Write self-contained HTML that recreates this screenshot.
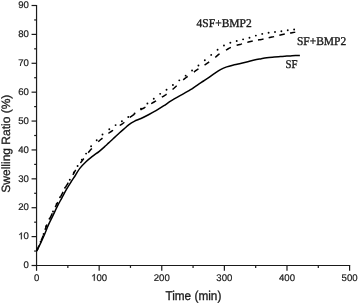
<!DOCTYPE html>
<html><head><meta charset="utf-8"><style>
html,body{margin:0;padding:0;background:#fff;width:358px;height:304px;overflow:hidden}
svg{display:block} text{-webkit-font-smoothing:antialiased;text-rendering:geometricPrecision} body{will-change:transform}
</style></head><body>
<svg width="358" height="304" viewBox="0 0 358 304">
<rect width="358" height="304" fill="#fff"/>
<g stroke="#1a1a1a" stroke-width="1.2" fill="none" stroke-linecap="butt">
<path d="M36.55,4.90 V266.10" />
<path d="M35.95,265.50 H350.20" />
<path d="M31.55,265.50 H36.55" />
<path d="M31.55,236.61 H36.55" />
<path d="M31.55,207.72 H36.55" />
<path d="M31.55,178.83 H36.55" />
<path d="M31.55,149.94 H36.55" />
<path d="M31.55,121.06 H36.55" />
<path d="M31.55,92.17 H36.55" />
<path d="M31.55,63.28 H36.55" />
<path d="M31.55,34.39 H36.55" />
<path d="M31.55,5.50 H36.55" />
<path d="M34.15,251.06 H36.55" />
<path d="M34.15,222.17 H36.55" />
<path d="M34.15,193.28 H36.55" />
<path d="M34.15,164.39 H36.55" />
<path d="M34.15,135.50 H36.55" />
<path d="M34.15,106.61 H36.55" />
<path d="M34.15,77.72 H36.55" />
<path d="M34.15,48.83 H36.55" />
<path d="M34.15,19.94 H36.55" />
<path d="M36.55,265.50 V270.80" />
<path d="M99.16,265.50 V270.80" />
<path d="M161.77,265.50 V270.80" />
<path d="M224.38,265.50 V270.80" />
<path d="M286.99,265.50 V270.80" />
<path d="M349.60,265.50 V270.80" />
<path d="M67.85,265.50 V267.90" />
<path d="M130.47,265.50 V267.90" />
<path d="M193.07,265.50 V267.90" />
<path d="M255.69,265.50 V267.90" />
<path d="M318.30,265.50 V267.90" />
</g>
<g font-family="Liberation Sans, sans-serif" font-size="9.6" fill="#1a1a1a" stroke="#1a1a1a" stroke-width="0.2">
<text transform="translate(23.56,268.20) scale(1,1.0)">0</text>
<path transform="translate(18.22,239.31) scale(1,1.0)" d="M3.57,0.00 L3.57,-6.87 L3.01,-6.87 L2.78,-6.45 L2.35,-6.00 L1.82,-5.57 L1.05,-5.14 L1.05,-4.32 L1.63,-4.59 L2.21,-4.94 L2.70,-5.33 L2.70,0.00 Z"/><text transform="translate(23.56,239.31) scale(1,1.0)">0</text>
<text transform="translate(18.22,210.42) scale(1,1.0)">20</text>
<text transform="translate(18.22,181.53) scale(1,1.0)">30</text>
<text transform="translate(18.22,152.64) scale(1,1.0)">40</text>
<text transform="translate(18.22,123.76) scale(1,1.0)">50</text>
<text transform="translate(18.22,94.87) scale(1,1.0)">60</text>
<text transform="translate(18.22,65.98) scale(1,1.0)">70</text>
<text transform="translate(18.22,37.09) scale(1,1.0)">80</text>
<text transform="translate(18.22,8.20) scale(1,1.0)">90</text>
<text transform="translate(33.88,280.80) scale(1,1.0)">0</text>
<path transform="translate(91.15,280.80) scale(1,1.0)" d="M3.57,0.00 L3.57,-6.87 L3.01,-6.87 L2.78,-6.45 L2.35,-6.00 L1.82,-5.57 L1.05,-5.14 L1.05,-4.32 L1.63,-4.59 L2.21,-4.94 L2.70,-5.33 L2.70,0.00 Z"/><text transform="translate(96.49,280.80) scale(1,1.0)">00</text>
<text transform="translate(153.76,280.80) scale(1,1.0)">200</text>
<text transform="translate(216.37,280.80) scale(1,1.0)">300</text>
<text transform="translate(278.98,280.80) scale(1,1.0)">400</text>
<text transform="translate(341.59,280.80) scale(1,1.0)">500</text>
</g>
<text transform="translate(165.4,299.8) scale(1,1.08)" font-family="Liberation Sans, sans-serif" font-size="11.8" fill="#1a1a1a" stroke="#1a1a1a" stroke-width="0.3">Time (min)</text>
<text transform="translate(9.7,143.7) rotate(-90)" text-anchor="middle" font-family="Liberation Sans, sans-serif" font-size="12" fill="#1a1a1a" stroke="#1a1a1a" stroke-width="0.3">Swelling Ratio (%)</text>
<g font-family="Liberation Serif, serif" font-size="11.5" fill="#1a1a1a" stroke="#1a1a1a" stroke-width="0.35">
<text transform="translate(196.6,27.1) scale(1,1.04)">4SF+BMP2</text>
<text transform="translate(296.9,44.6) scale(1,1.04)">SF+BMP2</text>
<text transform="translate(285.5,68.1) scale(0.94,1.03)">SF</text>
</g>
<g fill="none" stroke="#000" stroke-width="1.5" stroke-linejoin="round">
<path d="M36.55,251.20 C37.21,249.90 39.19,246.14 40.50,243.40 C41.81,240.66 43.12,237.75 44.40,234.75 C45.68,231.75 46.80,228.54 48.20,225.40 C49.60,222.26 51.28,219.07 52.80,215.90 C54.32,212.73 55.78,209.42 57.30,206.40 C58.82,203.38 60.40,200.60 61.90,197.80 C63.40,195.00 64.78,192.23 66.30,189.60 C67.82,186.97 69.50,184.35 71.00,182.00 C72.50,179.65 73.83,177.77 75.30,175.50 C76.77,173.23 78.02,170.70 79.80,168.40 C81.58,166.10 83.90,163.70 86.00,161.70 C88.10,159.70 90.18,158.14 92.40,156.40 C94.62,154.66 97.10,153.05 99.30,151.29 C101.50,149.52 104.03,147.21 105.60,145.81 C107.17,144.41 107.40,144.08 108.70,142.87 C110.00,141.67 111.58,140.26 113.40,138.57 C115.22,136.87 117.57,134.53 119.60,132.69 C121.63,130.85 124.10,128.83 125.60,127.51 C127.10,126.19 127.16,125.81 128.60,124.77 C130.04,123.74 132.18,122.35 134.25,121.30 C136.32,120.25 138.62,119.59 141.00,118.50 C143.38,117.41 146.00,116.06 148.50,114.75 C151.00,113.44 153.50,112.11 156.00,110.64 C158.50,109.17 161.21,107.43 163.50,105.94 C165.79,104.45 167.96,102.87 169.75,101.70 C171.54,100.53 172.46,99.97 174.25,98.90 C176.04,97.83 178.42,96.47 180.50,95.30 C182.58,94.13 185.08,92.83 186.75,91.90 C188.42,90.97 188.72,90.84 190.50,89.70 C192.28,88.56 195.22,86.50 197.40,85.05 C199.58,83.60 201.60,82.31 203.60,81.00 C205.60,79.69 207.62,78.42 209.40,77.20 C211.18,75.98 212.40,74.97 214.25,73.70 C216.10,72.43 218.42,70.74 220.50,69.61 C222.58,68.47 224.46,67.67 226.75,66.87 C229.04,66.08 231.96,65.42 234.25,64.84 C236.54,64.26 238.42,63.89 240.50,63.40 C242.58,62.92 244.46,62.47 246.75,61.92 C249.04,61.37 251.96,60.60 254.25,60.10 C256.54,59.60 258.42,59.28 260.50,58.90 C262.58,58.52 264.46,58.10 266.75,57.80 C269.04,57.50 271.96,57.30 274.25,57.10 C276.54,56.90 278.42,56.77 280.50,56.60 C282.58,56.43 284.83,56.23 286.75,56.10 C288.67,55.97 289.81,55.92 292.00,55.80 C294.19,55.68 298.58,55.47 299.90,55.40"/>
<path d="M36.75,250.74 L37.21,249.72 L37.67,248.70 L38.13,247.68 L38.58,246.65 L39.04,245.63 M41.15,240.66 L41.58,239.63 L42.01,238.59 L42.43,237.55 L42.84,236.51 L43.24,235.46 M45.07,229.86 L45.40,228.79 L45.75,227.72 L46.12,226.67 L46.51,225.62 L46.94,224.58 M49.91,218.35 L50.40,217.35 L50.89,216.34 L51.37,215.33 L51.85,214.32 L52.32,213.30 M55.25,207.11 L55.75,206.11 L56.25,205.11 L56.75,204.11 L57.27,203.11 L57.78,202.12 M60.54,196.84 L61.05,195.85 L61.57,194.86 L62.10,193.87 L62.62,192.88 L63.15,191.89 M65.50,187.45 L66.04,186.47 L66.59,185.49 L67.15,184.52 L67.73,183.56 L68.31,182.60 M72.88,174.76 L73.43,173.79 L73.99,172.82 L74.56,171.86 L75.14,170.89 L75.71,169.93 M80.40,163.01 L81.08,162.12 L81.76,161.23 L82.43,160.33 L83.10,159.44 L83.78,158.54 M88.25,152.70 L88.95,151.82 L89.65,150.95 L90.38,150.10 L91.12,149.26 L91.88,148.44 M98.25,141.75 L99.06,140.98 L99.89,140.23 L100.75,139.51 L101.62,138.80 L102.49,138.09 M108.40,133.40 L109.31,132.75 L110.23,132.11 L111.17,131.50 L112.10,130.88 L113.03,130.25 M119.75,125.50 L120.68,124.87 L121.62,124.27 L122.56,123.66 L123.47,123.01 L124.33,122.29 M129.80,117.30 L130.77,116.75 L131.70,116.12 L132.62,115.48 L133.53,114.83 L134.44,114.18 M140.50,109.80 L141.47,109.23 L142.46,108.71 L143.46,108.22 L144.46,107.72 L145.44,107.17 M151.18,103.59 L152.15,103.04 L153.13,102.50 L154.12,101.97 L155.10,101.42 L156.07,100.86 M161.86,97.23 L162.81,96.64 L163.77,96.06 L164.73,95.47 L165.66,94.86 L166.58,94.21 M172.54,89.45 L173.39,88.72 L174.23,87.98 L175.05,87.22 L175.87,86.46 L176.70,85.70 M183.22,79.84 L184.08,79.12 L184.96,78.42 L185.85,77.74 L186.75,77.07 L187.65,76.41 M193.90,72.04 L194.81,71.39 L195.71,70.72 L196.61,70.06 L197.54,69.44 L198.49,68.84 M204.58,65.11 L205.52,64.49 L206.44,63.86 L207.35,63.21 L208.25,62.55 L209.15,61.88 M215.26,57.31 L216.13,56.61 L216.98,55.88 L217.82,55.13 L218.68,54.42 L219.58,53.75 M225.94,50.09 L226.92,49.54 L227.89,48.99 L228.87,48.44 L229.86,47.92 L230.87,47.44 M236.62,45.28 L237.70,44.97 L238.78,44.69 L239.87,44.42 L240.95,44.15 L242.03,43.85 M247.30,42.37 L248.38,42.08 L249.47,41.81 L250.56,41.55 L251.65,41.30 L252.74,41.05 M257.98,39.99 L259.09,39.82 L260.20,39.67 L261.31,39.51 L262.41,39.33 L263.51,39.11 M268.66,37.83 L269.75,37.56 L270.84,37.31 L271.94,37.10 L273.04,36.88 L274.13,36.63 M279.34,35.34 L280.43,35.07 L281.51,34.80 L282.60,34.54 L283.69,34.29 L284.79,34.06 M290.02,33.08 L291.06,32.90 L292.11,32.72 L293.16,32.54 L294.20,32.37 L295.25,32.20 " stroke-linecap="butt"/>
</g>
<g fill="#000"><circle cx="37.43" cy="249.18" r="0.95"/><circle cx="40.62" cy="241.63" r="0.95"/><circle cx="43.57" cy="233.98" r="0.95"/><circle cx="46.10" cy="226.18" r="0.95"/><circle cx="49.52" cy="218.73" r="0.95"/><circle cx="53.00" cy="211.44" r="0.95"/><circle cx="56.61" cy="203.94" r="0.95"/><circle cx="60.00" cy="197.20" r="0.95"/><circle cx="65.02" cy="187.81" r="0.95"/><circle cx="69.80" cy="179.75" r="0.95"/><circle cx="73.84" cy="172.47" r="0.95"/><circle cx="77.60" cy="165.98" r="0.95"/><circle cx="81.83" cy="159.67" r="0.95"/><circle cx="86.10" cy="153.60" r="0.95"/><circle cx="91.10" cy="146.20" r="0.95"/><circle cx="96.70" cy="140.20" r="0.95"/><circle cx="102.50" cy="134.50" r="0.95"/><circle cx="109.30" cy="129.30" r="0.95"/><circle cx="115.60" cy="125.10" r="0.95"/><circle cx="121.90" cy="121.30" r="0.95"/><circle cx="128.30" cy="117.02" r="0.95"/><circle cx="134.60" cy="113.48" r="0.95"/><circle cx="141.02" cy="108.68" r="0.95"/><circle cx="147.40" cy="103.48" r="0.95"/><circle cx="153.78" cy="98.74" r="0.95"/><circle cx="160.16" cy="93.86" r="0.95"/><circle cx="166.54" cy="89.75" r="0.95"/><circle cx="172.92" cy="84.99" r="0.95"/><circle cx="179.30" cy="80.35" r="0.95"/><circle cx="185.68" cy="75.64" r="0.95"/><circle cx="192.06" cy="70.55" r="0.95"/><circle cx="198.44" cy="65.45" r="0.95"/><circle cx="204.82" cy="60.23" r="0.95"/><circle cx="211.20" cy="54.88" r="0.95"/><circle cx="217.58" cy="49.81" r="0.95"/><circle cx="223.96" cy="45.57" r="0.95"/><circle cx="230.34" cy="42.82" r="0.95"/><circle cx="236.72" cy="40.99" r="0.95"/><circle cx="243.10" cy="39.35" r="0.95"/><circle cx="249.48" cy="37.71" r="0.95"/><circle cx="255.86" cy="35.61" r="0.95"/><circle cx="262.24" cy="33.89" r="0.95"/><circle cx="268.62" cy="32.70" r="0.95"/><circle cx="275.00" cy="32.00" r="0.95"/><circle cx="281.38" cy="31.28" r="0.95"/><circle cx="287.76" cy="30.31" r="0.95"/><circle cx="294.14" cy="29.45" r="0.95"/></g>
</svg>
</body></html>
